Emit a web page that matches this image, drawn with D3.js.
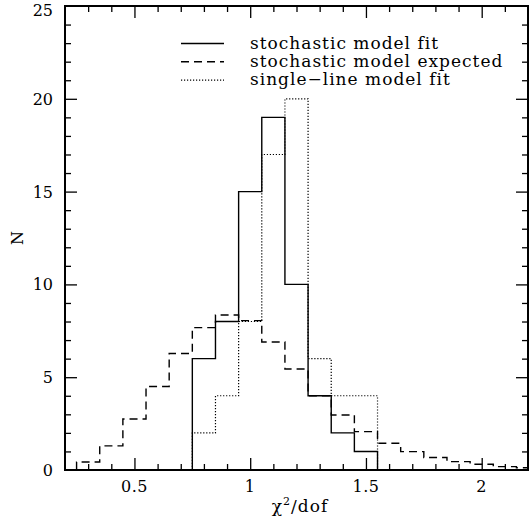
<!DOCTYPE html>
<html>
<head>
<meta charset="utf-8">
<script src="https://cdn.jsdelivr.net/npm/d3@7"></script>
<style>
  body { margin: 0; background: #fff; }
  svg { display: block; }
  text { font-family: "DejaVu Serif", serif; fill: #000; }
</style>
</head>
<body>
<div id="container"></div>
<script>
// Bin edges (chi^2/dof), width 0.1
const fitEdges = [0.75, 0.85, 0.95, 1.05, 1.15, 1.25, 1.35, 1.45, 1.55];
const stochasticFit = [6, 8, 15, 19, 10, 4, 2, 1];
const singleLineFit = [2, 4, 8, 17, 20, 6, 4, 4];

const expectedEdges = [0.25, 0.35, 0.45, 0.55, 0.65, 0.75, 0.85, 0.95, 1.05, 1.15,
  1.25, 1.35, 1.45, 1.55, 1.65, 1.75, 1.85, 1.95, 2.05, 2.15, 2.2];
const stochasticExpected = [0.43, 1.3, 2.75, 4.5, 6.28, 7.67, 8.35, 8.05, 6.9, 5.44,
  4.0, 2.96, 2.07, 1.44, 0.99, 0.67, 0.45, 0.31, 0.18, 0.12];

const xMajor = [0.5, 1, 1.5, 2];
const yMajor = [0, 5, 10, 15, 20, 25];
const legendLabels = ["stochastic model fit", "stochastic model expected", "single\u2212line model fit"];

const W = 529, H = 529;
const svg = d3.select("#container").append("svg")
  .attr("width", W).attr("height", H);

const x = d3.scaleLinear().domain([0.2, 2.2]).range([65, 528]);
const y = d3.scaleLinear().domain([0, 25]).range([470, 6]);

const styles = [
  { dash: null, width: 1.4 },
  { dash: "8,5", width: 1.4 },
  { dash: "1.2,1.8", width: 1.2 }
];

// step outline of a histogram
function stepPoints(edges, counts) {
  const pts = [[edges[0], 0]];
  counts.forEach((c, i) => {
    pts.push([edges[i], c]);
    pts.push([edges[i + 1], c]);
  });
  pts.push([edges[edges.length - 1], 0]);
  return pts;
}
const line = d3.line().x(d => x(d[0])).y(d => y(d[1]));

svg.append("defs").append("clipPath").attr("id", "clip")
  .append("rect").attr("x", 65).attr("y", 6).attr("width", 463).attr("height", 464);

const hist = svg.append("g").attr("clip-path", "url(#clip)");
[[expectedEdges, stochasticExpected, styles[1]],
 [fitEdges, singleLineFit, styles[2]],
 [fitEdges, stochasticFit, styles[0]]].forEach(([e, c, s]) => {
  hist.append("path")
    .attr("d", line(stepPoints(e, c)))
    .attr("fill", "none")
    .attr("stroke", "#000")
    .attr("stroke-width", s.width)
    .attr("stroke-dasharray", s.dash);
});

// axes: all four sides, ticks pointing inward
const xMinor = d3.range(3, 22).map(i => i / 10);
const yMinor = d3.range(1, 25);
function isMajor(v, arr) { return arr.some(m => Math.abs(m - v) < 1e-9); }

svg.append("g").attr("transform", "translate(0,470)")
  .call(d3.axisBottom(x).tickValues(xMinor)
    .tickSize(0).tickFormat(""))
  .call(g => g.select(".domain").remove())
  .call(g => g.selectAll(".tick line").attr("y2", d => isMajor(d, xMajor) ? -12 : -6));
svg.append("g").attr("transform", "translate(0,6)")
  .call(d3.axisTop(x).tickValues(xMinor).tickSize(0).tickFormat(""))
  .call(g => g.select(".domain").remove())
  .call(g => g.selectAll(".tick line").attr("y2", d => isMajor(d, xMajor) ? 12 : 6));
svg.append("g").attr("transform", "translate(65,0)")
  .call(d3.axisLeft(y).tickValues(yMinor).tickSize(0).tickFormat(""))
  .call(g => g.select(".domain").remove())
  .call(g => g.selectAll(".tick line").attr("x2", d => isMajor(d, yMajor) ? 12 : 6));
svg.append("g").attr("transform", "translate(528,0)")
  .call(d3.axisRight(y).tickValues(yMinor).tickSize(0).tickFormat(""))
  .call(g => g.select(".domain").remove())
  .call(g => g.selectAll(".tick line").attr("x2", d => isMajor(d, yMajor) ? -12 : -6));
svg.selectAll(".tick line").attr("stroke", "#000").attr("stroke-width", 1.3);

svg.append("rect")
  .attr("x", 65).attr("y", 6).attr("width", 463).attr("height", 464)
  .attr("fill", "none").attr("stroke", "#000").attr("stroke-width", 2);

// tick labels
svg.selectAll(".xlab").data(xMajor).enter().append("text")
  .attr("x", d => x(d)).attr("y", 492)
  .attr("text-anchor", "middle").attr("font-size", 16)
  .attr("letter-spacing", 0.5)
  .text(d => d);
svg.selectAll(".ylab").data(yMajor).enter().append("text")
  .attr("x", 53).attr("y", d => Math.max(y(d) + 6, 16))
  .attr("text-anchor", "end").attr("font-size", 16)
  .text(d => d);

// axis titles
const xt = svg.append("text").attr("x", 300).attr("y", 512)
  .attr("text-anchor", "middle").attr("font-size", 17)
  .attr("letter-spacing", 1);
xt.append("tspan").text("\u03c7");
xt.append("tspan").attr("font-size", 11).attr("dy", -7).text("2");
xt.append("tspan").attr("dy", 7).text("/dof");

svg.append("text")
  .attr("transform", "translate(23,238) rotate(-90)")
  .attr("text-anchor", "middle").attr("font-size", 16)
  .text("N");

// legend
const legend = svg.append("g");
legendLabels.forEach((lab, i) => {
  const ly = 43.5 + i * 18.3;
  legend.append("line")
    .attr("x1", 181).attr("x2", 224).attr("y1", ly).attr("y2", ly)
    .attr("stroke", "#000").attr("stroke-width", styles[i].width)
    .attr("stroke-dasharray", styles[i].dash);
  legend.append("text")
    .attr("x", 250).attr("y", ly + 5)
    .attr("font-size", 17)
    .attr("letter-spacing", 1)
    .text(lab);
});
</script>
</body>
</html>
